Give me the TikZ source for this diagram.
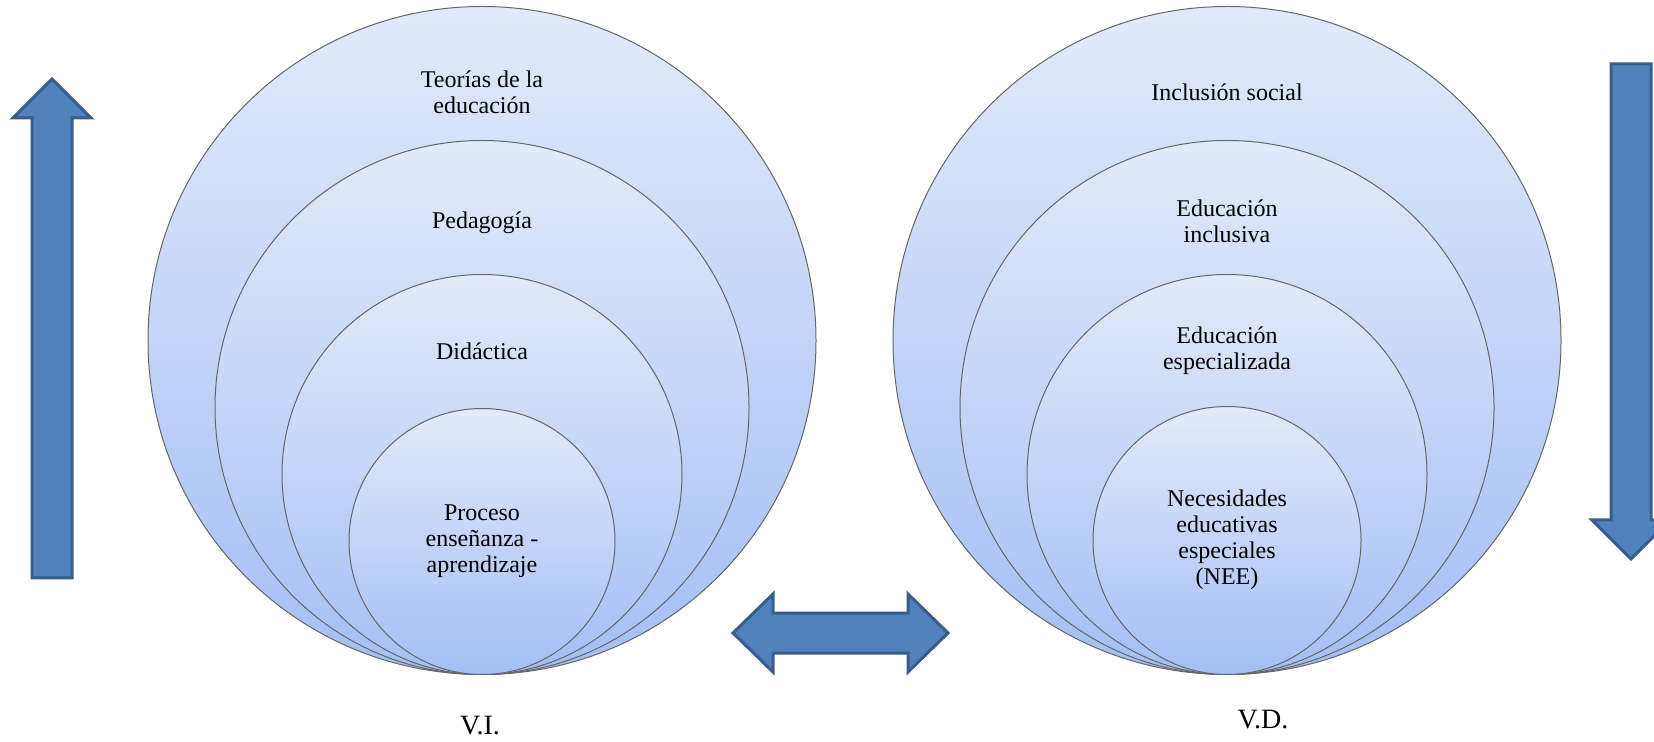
\documentclass[tikz,border=0pt]{standalone}
\usepackage{fontspec}
\setmainfont{Liberation Serif}
\usetikzlibrary{positioning}
\definecolor{ringtop}{RGB}{226,234,251}
\definecolor{ringbot}{RGB}{163,191,244}
\definecolor{arrowfill}{RGB}{79,129,189}
\definecolor{arrowline}{RGB}{56,93,138}

\begin{document}
\begin{tikzpicture}[x=0.5pt, y=-0.5pt,
    ring/.style={circle, draw=black!60, line width=0.5pt, top color=ringtop,
      bottom color=ringbot, inner sep=0pt, anchor=south},
    lbl/.style={align=center, font=\fontsize{12}{13}\selectfont},
    var/.style={font=\fontsize{14}{16}\selectfont},
    blockarrow/.style={fill=arrowfill, draw=arrowline, line width=1.5pt}]
  \useasboundingbox (0,0) rectangle (1654,742);

  % V.I.
  \node(VI1)[ring, minimum size=334pt] at (482,675) {};
  \node(VI2)[ring, minimum size=267pt] at (482,675) {};
  \node(VI3)[ring, minimum size=200pt] at (482,675) {};
  \node(VI4)[ring, minimum size=133pt] at (482,675) {};
  \node(teorias)[lbl] at (482,92) {Teorías de la\\educación};
  \node(pedagogia)[lbl] at (482,223) {Pedagogía};
  \node(didactica)[lbl] at (482,351) {Didáctica};
  \node(proceso)[lbl] at (VI4.center) {Proceso\\enseñanza -\\aprendizaje};
  \node(VIlabel)[var] at (480,726) {V.I.};

  % V.D.
  \node(VD1)[ring, minimum size=334pt] at (1227,675) {};
  \node(VD2)[ring, minimum size=267pt] at (1227,675) {};
  \node(VD3)[ring, minimum size=200pt] at (1227,675) {};
  \node(VD4)[ring, minimum size=134pt] at (1227,675) {};
  \node(inclusion)[lbl] at (1227,92) {Inclusión social};
  \node(edinclusiva)[lbl] at (1227,221) {Educación\\inclusiva};
  \node(edespecial)[lbl] at (1227,351) {Educación\\especializada};
  \node(nee)[lbl] at (1227,540) {Necesidades\\educativas\\especiales\\(NEE)};
  \node(VDlabel)[var] at (1263,720) {V.D.};

  % block arrows
  \draw[blockarrow] (32,578) -- (32,118) -- (13,118) -- (52,79) -- (91,118)
    -- (72,118) -- (72,578) -- cycle;
  \draw[blockarrow] (1611,64) -- (1611,520) -- (1592,520) -- (1631,559)
    -- (1670,520) -- (1651,520) -- (1651,64) -- cycle;
  \draw[blockarrow] (733,633) -- (773,594) -- (773,613) -- (908,613) -- (908,594)
    -- (948,633) -- (908,672) -- (908,653) -- (773,653) -- (773,672) -- cycle;
\end{tikzpicture}
\end{document}
